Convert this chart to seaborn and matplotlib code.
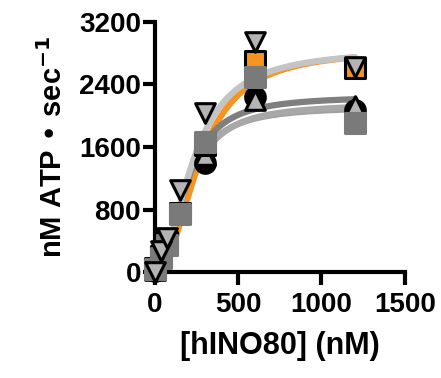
import numpy as np
import pandas as pd
import matplotlib; matplotlib.use('agg')
import matplotlib.pyplot as plt
import seaborn as sns

sns.set_style("ticks")
plt.rcParams['font.family'] = ['Liberation Sans', 'DejaVu Sans']
plt.rcParams['font.weight'] = 'bold'
plt.rcParams['text.color'] = 'black'
plt.rcParams['axes.labelcolor'] = 'black'
plt.rcParams['xtick.color'] = 'black'
plt.rcParams['ytick.color'] = 'black'
plt.rcParams['axes.edgecolor'] = 'black'

# hINO80 concentrations (nM)
conc = [0, 37.5, 75, 150, 300, 600, 1200]

# measured rates (nM ATP / sec)
circles = [20, 200, 330, 740, 1390, 2245, 2080]
tri_up = [30, 220, 360, 760, 1500, 2200, 2120]
sq_orange = [50, 210, 380, 760, 1620, 2700, 2610]
sq_dark = [40, 180, 350, 750, 1665, 2500, 1910]
tri_down = [0, 270, 440, 1045, 2040, 2940, 2620]

# fit parameters: Vmax, K, hill
fit_circles = [2120, 190, 2.2]
fit_tri_up = [2150, 200, 2.2]
fit_sq_orange = [2850, 270, 2.2]
fit_sq_dark = [2250, 190, 2.2]
fit_tri_down = [2850, 230, 2.0]

series = [
    ('circles', circles, fit_circles, 'o', 'black', 'black', '#a0a0a0'),
    ('tri_up', tri_up, fit_tri_up, '^', '#b4b4b4', 'black', '#a8a8a8'),
    ('sq_orange', sq_orange, fit_sq_orange, 's', '#f7931e', 'black', '#f7931e'),
    ('sq_dark', sq_dark, fit_sq_dark, 's', '#7a7a7a', '#7a7a7a', '#7f7f7f'),
    ('tri_down', tri_down, fit_tri_down, 'v', '#b4b4b4', 'black', '#c4c4c4'),
]

fig = plt.figure(figsize=(4.41, 3.78), dpi=100)
ax = fig.add_axes([0.351, 0.28, 0.567, 0.662])

xfit = np.linspace(0, 1200, 200)
for name, vals, (vmax, k, n), marker, fc, ec, lc in series:
    yfit = vmax * xfit ** n / (xfit ** n + k ** n)
    sns.lineplot(x=xfit, y=yfit, ax=ax, color=lc, linewidth=4.5,
                 clip_on=False, zorder=2)

for name, vals, fit, marker, fc, ec, lc in series:
    df = pd.DataFrame({'x': conc, 'y': vals})
    sns.scatterplot(data=df, x='x', y='y', ax=ax, marker=marker, s=200,
                    color=fc, edgecolor=ec, linewidth=2.2, clip_on=False,
                    zorder=3)

ax.set_xlim(0, 1500)
ax.set_ylim(0, 3200)
ax.set_xticks([0, 500, 1000, 1500])
ax.set_yticks([0, 800, 1600, 2400, 3200])
sns.despine(ax=ax)
for s in ['left', 'bottom']:
    ax.spines[s].set_linewidth(3)
ax.tick_params(width=3, length=9, labelsize=20)
ax.tick_params(axis='y', pad=1)
ax.tick_params(axis='x', pad=5)
for lab in ax.get_xticklabels() + ax.get_yticklabels():
    lab.set_fontweight('bold')

ax.set_xlabel('[hINO80] (nM)', fontsize=22, fontweight='bold', labelpad=10)
ax.set_ylabel('nM ATP \u2022 sec$^{\\mathbf{-1}}$', fontsize=21,
              fontweight='bold', labelpad=8)

plt.savefig('out.png', dpi=100)
